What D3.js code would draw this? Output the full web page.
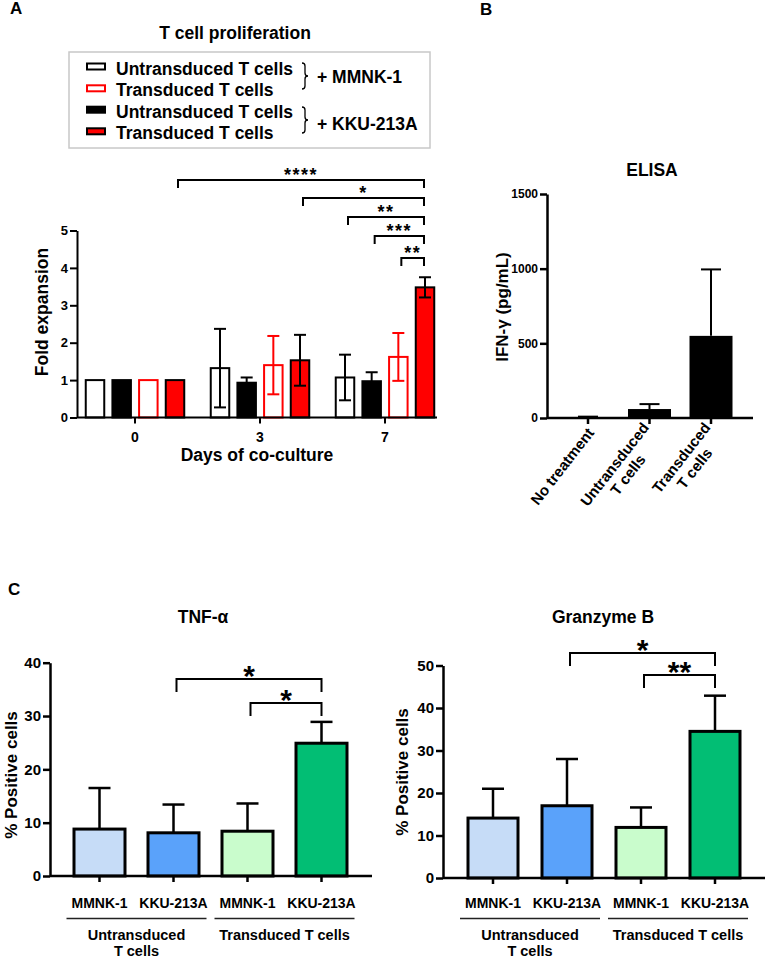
<!DOCTYPE html>
<html lang="en">
<head>
<meta charset="UTF-8">
<title>T cell assays</title>
<style>
  body{margin:0;background:#fff;}
  svg{display:block;font-family:Arial,"Liberation Sans",sans-serif;font-weight:bold;}
</style>
</head>
<body>
<svg width="766" height="959"></svg>
<script src="https://cdnjs.cloudflare.com/ajax/libs/d3/7.8.5/d3.min.js"></script>
<script>
// ---------- data ----------
// panel A: fold expansion by day of co-culture
var days = ["0", "3", "7"];
var legendA = ["Untransduced T cells", "Transduced T cells", "Untransduced T cells", "Transduced T cells"];
var targetsA = ["+ MMNK-1", "+ KKU-213A"];
var untransMMNK = [1.0, 1.32, 1.07];
var untransMMNKsd = [0, 1.05, 0.61];
var untransKKU = [1.0, 0.93, 0.97];
var untransKKUsd = [0, 0.14, 0.24];
var transMMNK = [1.0, 1.40, 1.62];
var transMMNKsd = [0, 0.78, 0.64];
var transKKU = [1.0, 1.53, 3.48];
var transKKUsd = [0, 0.68, 0.27];
var foldTicks = [0, 1, 2, 3, 4, 5];
// [day, series, day, series, label]; series order = bar order in a group
var sigA = [
  ["0", 3, "7", 3, "****"],
  ["3", 3, "7", 3, "*"],
  ["7", 0, "7", 3, "**"],
  ["7", 1, "7", 3, "***"],
  ["7", 2, "7", 3, "**"]
];

// panel B: ELISA
var elisaCats = [["No treatment"], ["Untransduced", "T cells"], ["Transduced", "T cells"]];
var ifng = [3, 60, 550];
var ifngSd = [6, 33, 445];
var ifngTicks = [0, 500, 1000, 1500];

// panel C
var cellLines = ["MMNK-1", "KKU-213A", "MMNK-1", "KKU-213A"];
var tGroups = [["Untransduced", "T cells"], ["Transduced T cells"]];
var tnf = [8.8, 8.1, 8.4, 24.9];
var tnfSd = [7.7, 5.3, 5.2, 4.0];
var gzmb = [14.1, 17.0, 11.9, 34.5];
var gzmbSd = [6.9, 11.0, 4.7, 8.4];
var tnfTicks = [0, 10, 20, 30, 40];
var gzmbTicks = [0, 10, 20, 30, 40, 50];
var sigTnf = [[1, 3, "*"], [2, 3, "*"]];
var sigGzmb = [[1, 3, "*"], [2, 3, "**"]];

// ---------- helpers ----------
var svg = d3.select("svg");

function leftAxis(g, y, ticks, x, fs, sw) {
  var a = g.append("g").attr("transform", "translate(" + x + ",0)")
    .call(d3.axisLeft(y).tickValues(ticks).tickFormat(d3.format("d"))
      .tickSize(7).tickSizeOuter(0).tickPadding(2));
  a.attr("font-size", fs).attr("font-family", null);
  a.select(".domain").attr("stroke-width", sw);
  a.selectAll(".tick line").attr("stroke-width", sw);
  a.selectAll(".tick text").attr("font-weight", "bold");
  return a;
}

function bottomLine(g, x0, x1, y, ticksX, sw) {
  g.append("line").attr("x1", x0).attr("x2", x1).attr("y1", y).attr("y2", y)
    .attr("stroke", "#000").attr("stroke-width", sw);
  g.selectAll(null).data(ticksX).enter().append("line")
    .attr("x1", function(d){return d;}).attr("x2", function(d){return d;})
    .attr("y1", y).attr("y2", y + 6).attr("stroke", "#000").attr("stroke-width", sw);
}

function bracket(g, x1, x2, y, leg, label, fs, dy, ls) {
  g.append("path").attr("d", "M" + x1 + "," + (y + leg) + "V" + y + "H" + x2 + "V" + (y + leg))
    .attr("fill", "none").attr("stroke", "#000").attr("stroke-width", 2);
  g.append("text").attr("x", (x1 + x2) / 2).attr("y", y + dy)
    .attr("text-anchor", "middle").attr("font-size", fs)
    .attr("letter-spacing", ls || 0).text(label);
}

function brace(g, x, y0, y1) {
  var m = (y0 + y1) / 2;
  g.append("path")
    .attr("d", "M" + x + "," + y0 + "Q" + (x + 3) + "," + y0 + " " + (x + 3) + "," + (y0 + 3) +
      "L" + (x + 3) + "," + (m - 3) + "Q" + (x + 3) + "," + m + " " + (x + 6) + "," + m +
      "Q" + (x + 3) + "," + m + " " + (x + 3) + "," + (m + 3) +
      "L" + (x + 3) + "," + (y1 - 3) + "Q" + (x + 3) + "," + y1 + " " + x + "," + y1)
    .attr("fill", "none").attr("stroke", "#000").attr("stroke-width", 1.3);
}

// ---------- panel A ----------
(function() {
  var g = svg.append("g");
  g.append("text").attr("x", 10).attr("y", 14).attr("font-size", 17).text("A");
  g.append("text").attr("x", 235).attr("y", 39).attr("text-anchor", "middle").attr("font-size", 17.5).text("T cell proliferation");

  // legend
  g.append("rect").attr("x", 69).attr("y", 52).attr("width", 361).attr("height", 96)
    .attr("fill", "#fff").attr("stroke", "#c8c8c8").attr("stroke-width", 1.5);
  var swFill = ["#fff", "#fff", "#000", "#f00"], swStroke = ["#000", "#f00", "#000", "#000"];
  var rowY = [66.5, 88.3, 109.7, 131.3];
  legendA.forEach(function(t, i) {
    g.append("rect").attr("x", 87).attr("y", rowY[i] - 3).attr("width", 18).attr("height", 6)
      .attr("fill", swFill[i]).attr("stroke", swStroke[i]).attr("stroke-width", 2);
    g.append("text").attr("x", 116).attr("y", rowY[i] + 8).attr("font-size", 17.5).text(t);
  });
  brace(g, 302, 63, 89);
  brace(g, 302, 107, 133);
  g.append("text").attr("x", 317).attr("y", 83).attr("font-size", 17.5).text(targetsA[0]);
  g.append("text").attr("x", 317).attr("y", 130).attr("font-size", 17.5).text(targetsA[1]);

  var y = d3.scaleLinear().domain([0, 5]).range([417.5, 230.5]);
  var x = d3.scalePoint().domain(days).range([135, 385]);
  var sub = d3.scalePoint().domain(d3.range(4)).range([-40, 40]);
  var bw = 18.5;
  var means = [untransMMNK, untransKKU, transMMNK, transKKU];
  var sds = [untransMMNKsd, untransKKUsd, transMMNKsd, transKKUsd];
  var fills = ["#fff", "#000", "#fff", "#f00"];
  var strokes = ["#000", "#000", "#f00", "#000"];
  var errCol = ["#000", "#000", "#f00", "#000"];
  var rows = [];
  days.forEach(function(d, i) {
    means.forEach(function(s, j) { rows.push({day: d, s: j, v: s[i], e: sds[j][i]}); });
  });

  g.selectAll(".barA").data(rows).enter().append("rect")
    .attr("x", function(d){return x(d.day) + sub(d.s) - bw / 2;})
    .attr("y", function(d){return y(d.v);})
    .attr("width", bw)
    .attr("height", function(d){return y(0) - y(d.v);})
    .attr("fill", function(d){return fills[d.s];})
    .attr("stroke", function(d){return strokes[d.s];})
    .attr("stroke-width", 2);

  var err = g.selectAll(".errA").data(rows.filter(function(d){return d.e > 0;})).enter().append("g")
    .attr("stroke", function(d){return errCol[d.s];}).attr("stroke-width", 2);
  err.append("line").attr("x1", function(d){return x(d.day) + sub(d.s);})
    .attr("x2", function(d){return x(d.day) + sub(d.s);})
    .attr("y1", function(d){return y(d.v - d.e);}).attr("y2", function(d){return y(d.v + d.e);});
  [1, -1].forEach(function(k) {
    err.append("line").attr("x1", function(d){return x(d.day) + sub(d.s) - 6;})
      .attr("x2", function(d){return x(d.day) + sub(d.s) + 6;})
      .attr("y1", function(d){return y(d.v + k * d.e);}).attr("y2", function(d){return y(d.v + k * d.e);});
  });

  leftAxis(g, y, foldTicks, 77, 13, 2);
  bottomLine(g, 77, 437, y(0), days.map(function(d){return x(d);}), 2);
  g.selectAll(".xlabA").data(days).enter().append("text")
    .attr("x", function(d){return x(d);}).attr("y", 442).attr("text-anchor", "middle")
    .attr("font-size", 14).text(function(d){return d;});
  g.append("text").attr("x", 257).attr("y", 461).attr("text-anchor", "middle").attr("font-size", 17.5).text("Days of co-culture");
  g.append("text").attr("transform", "translate(42,312) rotate(-90)").attr("text-anchor", "middle")
    .attr("dominant-baseline", "central").attr("font-size", 17.5).text("Fold expansion");

  var levels = [180, 198, 217, 236, 258];
  sigA.forEach(function(s, i) {
    bracket(g, x(s[0]) + sub(s[1]) + 3, x(s[2]) + sub(s[3]) - 1, levels[i], 8, s[4], 18, 1, 1.5);
  });
})();

// ---------- panel B ----------
(function() {
  var g = svg.append("g");
  g.append("text").attr("x", 480).attr("y", 15).attr("font-size", 17).text("B");
  g.append("text").attr("x", 652).attr("y", 176).attr("text-anchor", "middle").attr("font-size", 17.5).text("ELISA");
  var y = d3.scaleLinear().domain([0, 1500]).range([418, 194]);
  var x = d3.scalePoint().domain(d3.range(3)).range([588, 711]);
  var bw = 43;
  var idx = d3.range(3);
  g.selectAll(".barB").data(idx).enter().append("rect")
    .attr("x", function(i){return x(i) - bw / 2;}).attr("y", function(i){return y(ifng[i]);})
    .attr("width", bw).attr("height", function(i){return y(0) - y(ifng[i]);})
    .attr("fill", "#000");
  var err = g.selectAll(".errB").data(idx).enter().append("g").attr("stroke", "#000").attr("stroke-width", 2);
  err.append("line").attr("x1", function(i){return x(i);}).attr("x2", function(i){return x(i);})
    .attr("y1", function(i){return y(ifng[i]);}).attr("y2", function(i){return y(ifng[i] + ifngSd[i]);});
  err.append("line").attr("x1", function(i){return x(i) - 10;}).attr("x2", function(i){return x(i) + 10;})
    .attr("y1", function(i){return y(ifng[i] + ifngSd[i]);}).attr("y2", function(i){return y(ifng[i] + ifngSd[i]);});

  leftAxis(g, y, ifngTicks, 547, 12, 2.5);
  bottomLine(g, 547, 753, y(0), idx.map(function(i){return x(i);}), 2.5);
  g.append("text").attr("transform", "translate(502,307) rotate(-90)").attr("text-anchor", "middle")
    .attr("dominant-baseline", "central").attr("font-size", 17).text("IFN-\u03b3 (pg/mL)");

  var lh = 17;
  elisaCats.forEach(function(lines, i) {
    var lg = g.append("g").attr("transform", "translate(" + (x(i) + 3) + ",430) rotate(-52)");
    var ts = lines.map(function(t) {
      return lg.append("text").attr("font-size", 15).attr("text-anchor", "middle").text(t);
    });
    var maxW = d3.max(ts, function(t){return t.node().getComputedTextLength();});
    ts.forEach(function(t, k) {
      t.attr("x", -maxW / 2).attr("y", (k - (lines.length - 1) / 2) * lh + 5);
    });
  });
})();

// ---------- panel C ----------
function drawC(o) {
  var g = svg.append("g");
  var y = d3.scaleLinear().domain([0, o.max]).range([o.y0, o.yTop]);
  var x = d3.scalePoint().domain(d3.range(4)).range(o.xr);
  var colors = ["#c6dcf7", "#5aa2fa", "#c9fccc", "#02be74"];
  var idx = d3.range(4);
  g.append("text").attr("x", o.titleX).attr("y", 623).attr("text-anchor", "middle").attr("font-size", 17.5).text(o.title);

  var err = g.selectAll(".errC").data(idx).enter().append("g").attr("stroke", "#000").attr("stroke-width", 2.5);
  err.append("line").attr("x1", function(i){return x(i);}).attr("x2", function(i){return x(i);})
    .attr("y1", function(i){return y(o.v[i]);}).attr("y2", function(i){return y(o.v[i] + o.e[i]);});
  err.append("line").attr("x1", function(i){return x(i) - 11;}).attr("x2", function(i){return x(i) + 11;})
    .attr("y1", function(i){return y(o.v[i] + o.e[i]);}).attr("y2", function(i){return y(o.v[i] + o.e[i]);});
  g.selectAll(".barC").data(idx).enter().append("rect")
    .attr("x", function(i){return x(i) - o.bw / 2;}).attr("y", function(i){return y(o.v[i]);})
    .attr("width", o.bw).attr("height", function(i){return y(0) - y(o.v[i]);})
    .attr("fill", function(i){return colors[i];}).attr("stroke", "#000").attr("stroke-width", 3);

  leftAxis(g, y, o.ticks, o.axisX, 15, 2.5);
  bottomLine(g, o.axisX, o.xEnd, y(0), idx.map(function(i){return x(i);}), 2.5);
  g.append("text").attr("transform", "translate(" + o.yLabX + "," + o.yLabY + ") rotate(-90)")
    .attr("text-anchor", "middle").attr("dominant-baseline", "central").attr("font-size", 17).text("% Positive cells");

  g.selectAll(".cat").data(idx).enter().append("text")
    .attr("x", function(i){return x(i);}).attr("y", 908).attr("text-anchor", "middle")
    .attr("font-size", 14).text(function(i){return cellLines[i];});
  [[0, 1], [2, 3]].forEach(function(p, k) {
    g.append("line").attr("x1", x(p[0]) - 33).attr("x2", x(p[1]) + 33).attr("y1", 918.5).attr("y2", 918.5)
      .attr("stroke", "#222").attr("stroke-width", 1.3);
    tGroups[k].forEach(function(t, j) {
      g.append("text").attr("x", (x(p[0]) + x(p[1])) / 2).attr("y", 940 + j * 16)
        .attr("text-anchor", "middle").attr("font-size", 14.5).text(t);
    });
  });

  o.sig.forEach(function(s, i) {
    bracket(g, x(s[0]) + 3, x(s[1]), o.levels[i], 13, s[2], 30, 7);
  });
}

svg.append("text").attr("x", 8).attr("y", 595).attr("font-size", 17).text("C");
drawC({title: "TNF-\u03b1", titleX: 203, v: tnf, e: tnfSd, ticks: tnfTicks, max: 40,
  y0: 876, yTop: 662.7, xr: [99.5, 321.5], bw: 51, axisX: 50, xEnd: 372,
  yLabX: 11, yLabY: 775, sig: sigTnf, levels: [679, 703]});
drawC({title: "Granzyme B", titleX: 603, v: gzmb, e: gzmbSd, ticks: gzmbTicks, max: 50,
  y0: 878, yTop: 665.5, xr: [493, 715], bw: 50, axisX: 443, xEnd: 765,
  yLabX: 402, yLabY: 772, sig: sigGzmb, levels: [653, 675]});
</script>
</body>
</html>
